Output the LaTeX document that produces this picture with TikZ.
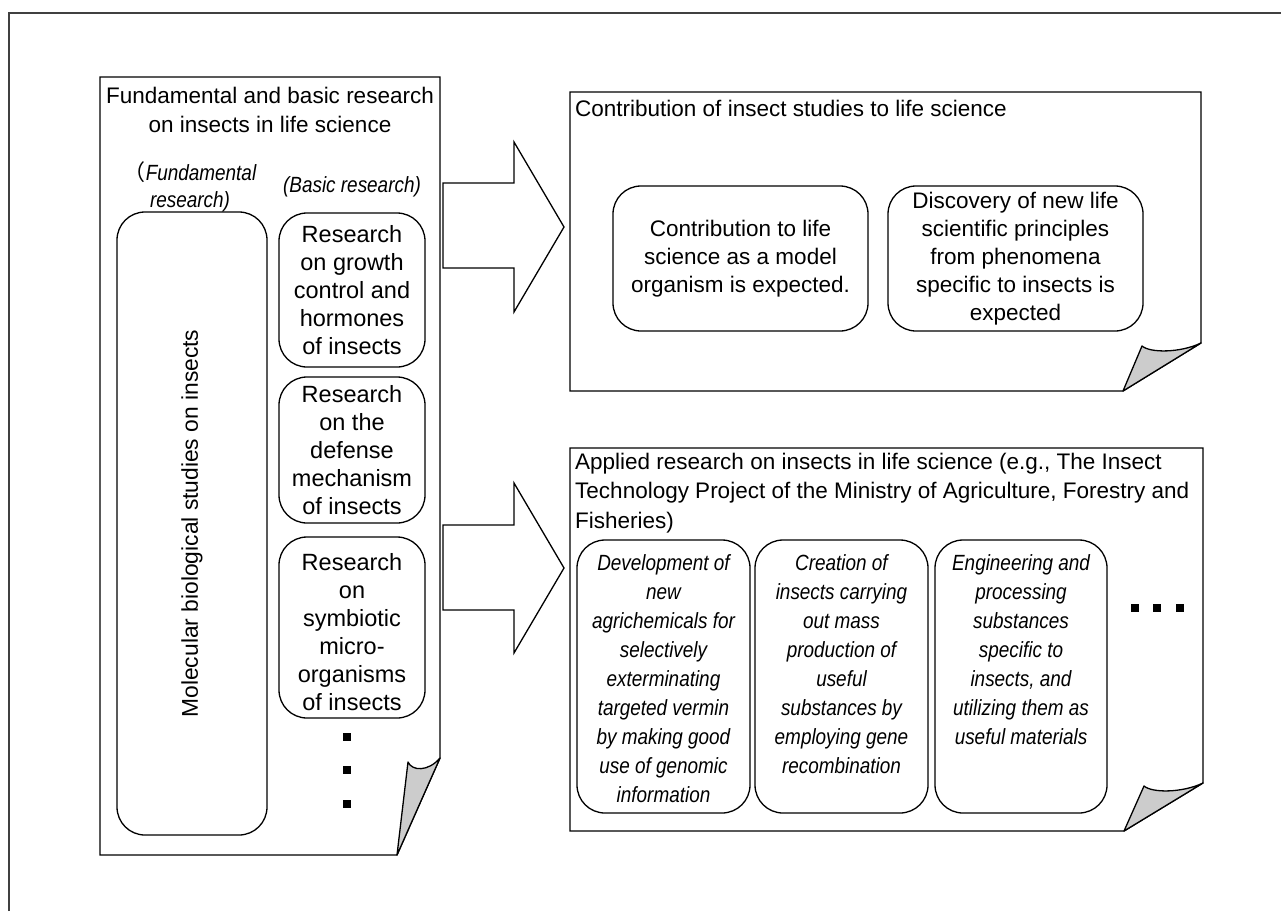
\documentclass[tikz,border=0pt]{standalone}
\usepackage{fontspec}
\setmainfont{Liberation Sans}
\newfontfamily\itc[FakeStretch=0.86]{Liberation Sans}
\newfontfamily\cjkf{Noto Sans CJK JP}
\begin{document}
\begin{tikzpicture}[x=1pt,y=-1pt,
  paper/.style={draw=black,line width=1.3pt,fill=white,line join=miter},
  foldpart/.style={draw=black,line width=1.3pt,fill=black!20,line join=round},
  rbox/.style={draw=black,line width=1.3pt,rounded corners=28pt,inner sep=0pt},
  bigarrow/.style={draw=black,line width=1.3pt,fill=white,line join=miter},
  sq/.style={fill=black,draw=none,minimum size=8pt,inner sep=0pt},
  titletxt/.style={inner sep=0pt,font=\fontsize{22.5}{29.5}\selectfont},
  lefttxt/.style={inner sep=0pt,font=\fontsize{23.5}{28}\selectfont,align=center},
  toptxt/.style={font=\fontsize{22.5}{28}\selectfont,align=center},
  ittxt/.style={inner sep=0pt,font=\itc\itshape\fontsize{22}{29}\selectfont,align=center},
  lbltxt/.style={inner sep=0pt,font=\itc\itshape\fontsize{22}{26.5}\selectfont,align=center}
]
\useasboundingbox (0,0) rectangle (1281,911);
% outer frame
\draw[draw=black!75,line width=1.5pt] (9,911) -- (9,13) -- (1281,13);

% left panel
\draw[paper] (100,77) -- (440,77) -- (440,758) -- (397,855) -- (100,855) -- cycle;
\draw[foldpart] (397,855) -- (408,762) .. controls (412,771) and (428,772) .. (440,758) -- cycle;
\node[titletxt,align=center] (lt) at (270,110) {Fundamental and basic research\\on insects in life science};
\node[lbltxt] (fl) at (190,187) {{\cjkf\upshape （}Fundamental\\research)};
\node[lbltxt] (bl) at (352,187) {(Basic research)};
\node[rbox,minimum width=150pt,minimum height=623pt] (mol) at (192,523.5) {};
\node[rotate=90,font=\fontsize{22.8}{28}\selectfont,inner sep=0pt] (moltxt) at (mol.center) {Molecular biological studies on insects};
\node[rbox,minimum width=146pt,minimum height=154pt] (r1) at (352,290) {};
\node[lefttxt] (r1t) at (r1.center) {Research\\on growth\\control and\\hormones\\of insects};
\node[rbox,minimum width=146pt,minimum height=146pt] (r2) at (352,450) {};
\node[lefttxt] (r2t) at (r2.center) {Research\\on the\\defense\\mechanism\\of insects};
\node[rbox,minimum width=146pt,minimum height=181pt] (r3) at (352,627.5) {};
\node[lefttxt] (r3t) at ([yshift=-5pt]r3.center) {Research\\on\\symbiotic\\micro-\\organisms\\of insects};
\node[sq] (v1) at (347,737) {};
\node[sq] (v2) at (347,770) {};
\node[sq] (v3) at (347,804) {};

% arrows
\draw[bigarrow] (443,183) -- (514,183) -- (514,142) -- (564,227) -- (514,312) -- (514,268) -- (443,268) -- cycle;
\draw[bigarrow] (443,525) -- (514,525) -- (514,483) -- (564,568) -- (514,653) -- (514,610) -- (443,610) -- cycle;

% top right panel
\draw[paper] (570,92) -- (1201,92) -- (1201,343) -- (1123,391) -- (570,391) -- cycle;
\draw[foldpart] (1123,391) -- (1142,346) .. controls (1150,353) and (1180,353) .. (1201,343) -- cycle;
\node[titletxt,anchor=west] (tt) at (575,108) {Contribution of insect studies to life science};
\node[rbox,toptxt,minimum width=255pt,minimum height=145pt] (c1) at (740.5,258.5) {Contribution to life\\science as a model\\organism is expected.};
\node[rbox,toptxt,minimum width=255pt,minimum height=145pt] (c2) at (1015.5,258.5) {Discovery of new life\\scientific principles\\from phenomena\\specific to insects is\\expected};

% bottom right panel
\draw[paper] (570,448) -- (1203,448) -- (1203,783) -- (1124,831) -- (570,831) -- cycle;
\draw[foldpart] (1124,831) -- (1144,786) .. controls (1152,793) and (1182,793) .. (1203,783) -- cycle;
\node[titletxt,anchor=west,align=left] (bt) at (575,493) {Applied research on insects in life science (e.g., The Insect\\Technology Project of the Ministry of Agriculture, Forestry and\\Fisheries)};
\node[rbox,minimum width=173pt,minimum height=273pt] (a1) at (663.5,676.5) {};
\node[rbox,minimum width=173pt,minimum height=273pt] (a2) at (841.5,676.5) {};
\node[rbox,minimum width=172pt,minimum height=273pt] (a3) at (1021,676.5) {};
\node[ittxt,anchor=north] (a1t) at (a1.center |- 0,554) {Development of\\new\\agrichemicals for\\selectively\\exterminating\\targeted vermin\\by making good\\use of genomic\\information};
\node[ittxt,anchor=north] (a2t) at (a2.center |- 0,554) {Creation of\\insects carrying\\out mass\\production of\\useful\\substances by\\employing gene\\recombination};
\node[ittxt,anchor=north] (a3t) at (a3.center |- 0,554) {Engineering and\\processing\\substances\\specific to\\insects, and\\utilizing them as\\useful materials};
\node[sq] (h1) at (1135,608) {};
\node[sq] (h2) at (1157,608) {};
\node[sq] (h3) at (1180,608) {};
\end{tikzpicture}
\end{document}
